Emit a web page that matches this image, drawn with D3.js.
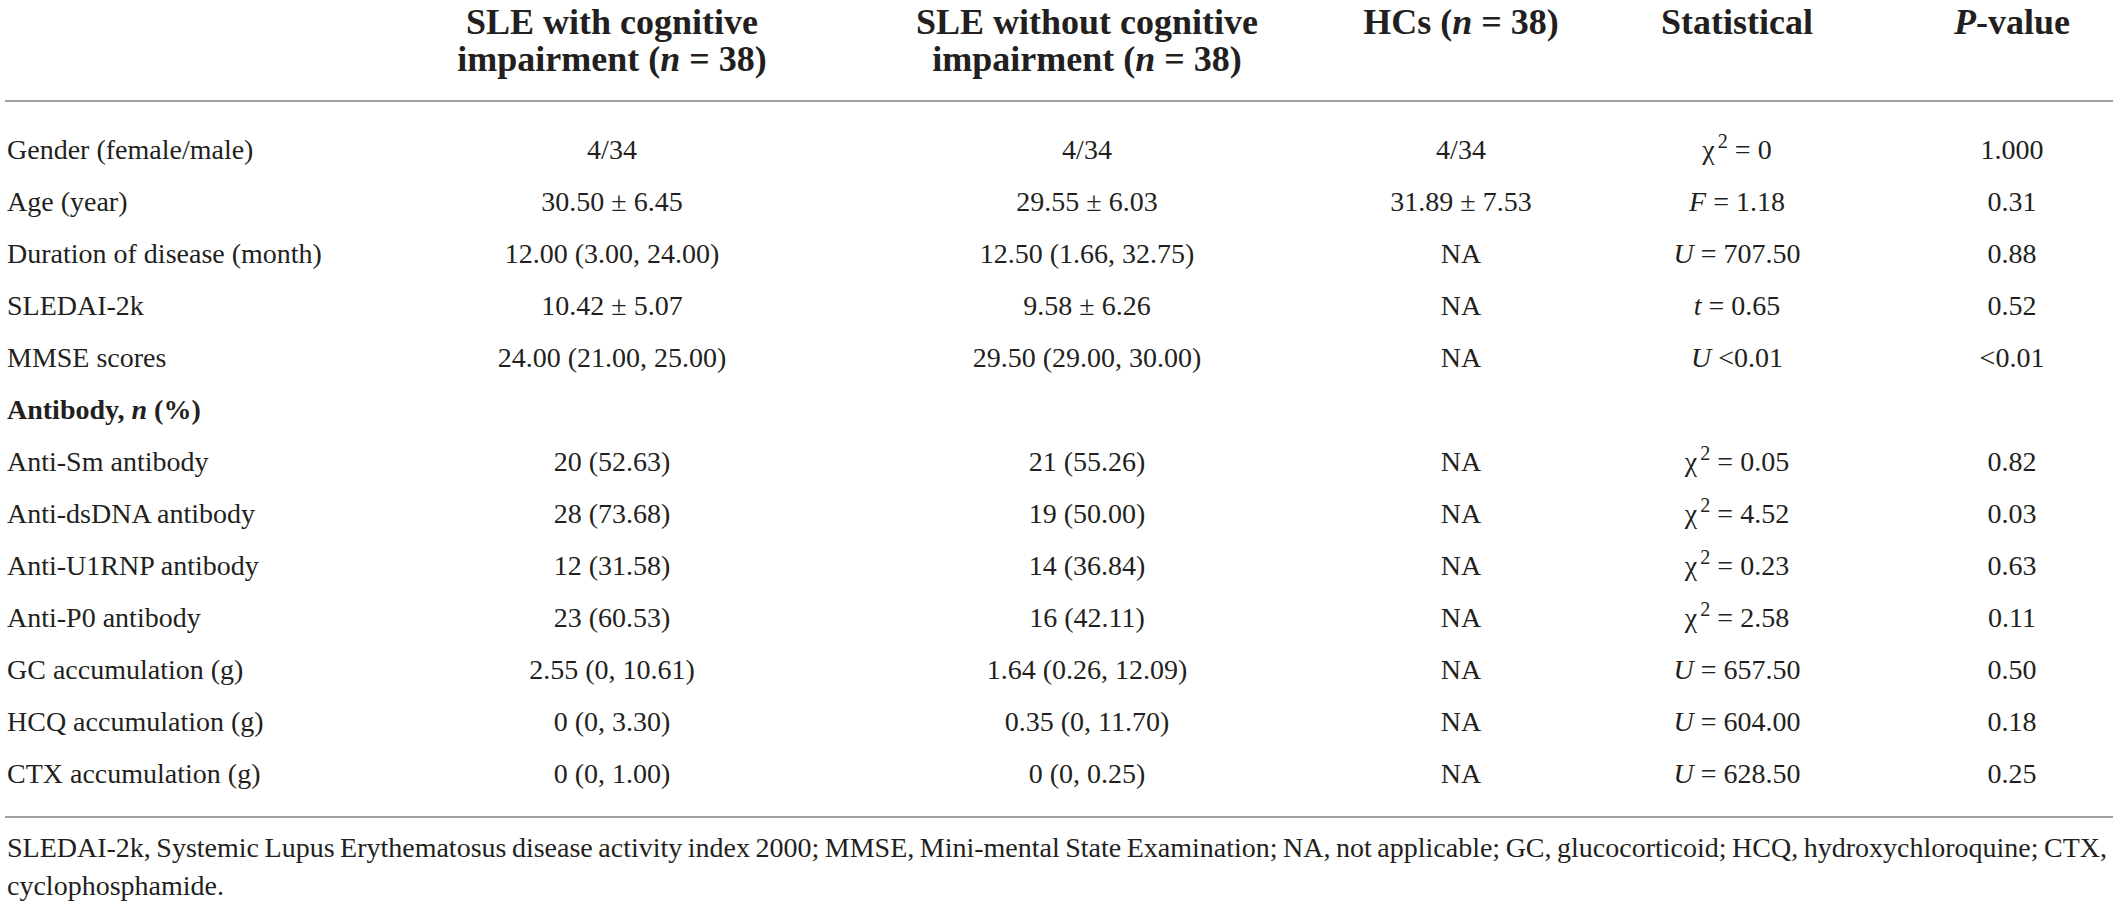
<!DOCTYPE html>
<html>
<head>
<meta charset="utf-8">
<script src="https://cdn.jsdelivr.net/npm/d3@7"></script>
<style>
  body { margin: 0; background: #fff; }
  svg text { font-family: "Liberation Serif", "DejaVu Serif", serif; fill: #231f20; }
</style>
</head>
<body>
<svg id="tbl" width="2117" height="906"></svg>
<script>
// table content
const rowLabels = [
  "Gender (female/male)", "Age (year)", "Duration of disease (month)", "SLEDAI-2k",
  "MMSE scores", "Antibody", "Anti-Sm antibody", "Anti-dsDNA antibody",
  "Anti-U1RNP antibody", "Anti-P0 antibody", "GC accumulation (g)",
  "HCQ accumulation (g)", "CTX accumulation (g)"
];
const withCI = ["4/34", "30.50 ± 6.45", "12.00 (3.00, 24.00)", "10.42 ± 5.07", "24.00 (21.00, 25.00)", "",
  "20 (52.63)", "28 (73.68)", "12 (31.58)", "23 (60.53)", "2.55 (0, 10.61)", "0 (0, 3.30)", "0 (0, 1.00)"];
const withoutCI = ["4/34", "29.55 ± 6.03", "12.50 (1.66, 32.75)", "9.58 ± 6.26", "29.50 (29.00, 30.00)", "",
  "21 (55.26)", "19 (50.00)", "14 (36.84)", "16 (42.11)", "1.64 (0.26, 12.09)", "0.35 (0, 11.70)", "0 (0, 0.25)"];
const hcs = ["4/34", "31.89 ± 7.53", "NA", "NA", "NA", "", "NA", "NA", "NA", "NA", "NA", "NA", "NA"];
const statKind = ["chi", "F", "U", "t", "U", "", "chi", "chi", "chi", "chi", "U", "U", "U"];
const statValue = ["= 0", "= 1.18", "= 707.50", "= 0.65", "<0.01", "", "= 0.05", "= 4.52", "= 0.23", "= 2.58",
  "= 657.50", "= 604.00", "= 628.50"];
const pValues = ["1.000", "0.31", "0.88", "0.52", "<0.01", "", "0.82", "0.03", "0.63", "0.11", "0.50", "0.18", "0.25"];

const footnote = "SLEDAI-2k, Systemic Lupus Erythematosus disease activity index 2000; MMSE, Mini-mental State Examination; NA, not applicable; GC, glucocorticoid; HCQ, hydroxychloroquine; CTX, cyclophosphamide.";

const W = 2117;
const bodySize = 28;
const headSize = 36;
const left = 7;

const svg = d3.select("svg#tbl");

const cols = ["with", "without", "hc", "stat", "p"];
const x = d3.scaleOrdinal().domain(cols).range([612, 1087, 1461, 1737, 2012]);
const y = d3.scaleBand().domain(d3.range(rowLabels.length)).range([133, 809]);
const rowY = i => y(i) + y.bandwidth() / 2;

// header
const head = svg.append("g").attr("font-weight", "bold").attr("font-size", headSize).attr("text-anchor", "middle");
function headCell(col, lines) {
  lines.forEach((parts, li) => {
    const t = head.append("text").attr("x", x(col)).attr("y", 34 + li * 37);
    parts.forEach(p => t.append("tspan").attr("font-style", p.i ? "italic" : null).text(p.s));
  });
}
headCell("with", [[{s: "SLE with cognitive"}], [{s: "impairment ("}, {s: "n", i: true}, {s: " = 38)"}]]);
headCell("without", [[{s: "SLE without cognitive"}], [{s: "impairment ("}, {s: "n", i: true}, {s: " = 38)"}]]);
headCell("hc", [[{s: "HCs ("}, {s: "n", i: true}, {s: " = 38)"}]]);
headCell("stat", [[{s: "Statistical"}]]);
headCell("p", [[{s: "P", i: true}, {s: "-value"}]]);

// rules
svg.append("line").attr("x1", left - 2).attr("x2", W - 4).attr("y1", 101).attr("y2", 101)
  .attr("stroke", "#a0a0a0").attr("stroke-width", 2);
svg.append("line").attr("x1", left - 2).attr("x2", W - 4).attr("y1", 817).attr("y2", 817)
  .attr("stroke", "#a0a0a0").attr("stroke-width", 2);

// body
const body = svg.append("g").attr("font-size", bodySize);

body.selectAll("text.label")
  .data(rowLabels)
  .join("text")
  .attr("class", "label")
  .attr("x", left)
  .attr("y", (d, i) => rowY(i))
  .each(function(d) {
    const t = d3.select(this);
    if (d === "Antibody") {
      t.attr("font-weight", "bold");
      t.append("tspan").text("Antibody, ");
      t.append("tspan").attr("font-style", "italic").text("n");
      t.append("tspan").text(" (%)");
    } else {
      t.text(d);
    }
  });

function plainCol(col, values) {
  body.selectAll("text." + col)
    .data(values)
    .join("text")
    .attr("class", col)
    .attr("x", x(col))
    .attr("y", (d, i) => rowY(i))
    .attr("text-anchor", "middle")
    .text(d => d);
}
plainCol("with", withCI);
plainCol("without", withoutCI);
plainCol("hc", hcs);
plainCol("p", pValues);

body.selectAll("text.stat")
  .data(statKind.map((k, i) => ({k, v: statValue[i]})))
  .join("text")
  .attr("class", "stat")
  .attr("x", x("stat"))
  .attr("y", (d, i) => rowY(i))
  .attr("text-anchor", "middle")
  .each(function(d) {
    const t = d3.select(this);
    if (!d.k) return;
    if (d.k === "chi") {
      t.append("tspan").text("χ");
      t.append("tspan").attr("font-size", bodySize * 0.72).attr("dx", 3).attr("dy", -11).text("2");
      t.append("tspan").attr("dy", 11).text(" " + d.v);
    } else {
      t.append("tspan").attr("font-style", "italic").text(d.k);
      t.append("tspan").text(" " + d.v);
    }
  });

// footnote, first line justified
const words = footnote.split(" ");
const breakAt = words.indexOf("cyclophosphamide.");
const line1 = words.slice(0, breakAt);
const foot = svg.append("g").attr("font-size", bodySize);
const measure = foot.append("text").attr("visibility", "hidden");
const widths = line1.map(w => { measure.text(w); return measure.node().getComputedTextLength(); });
measure.remove();
const avail = (W - 10) - left;
const gap = (avail - d3.sum(widths)) / (line1.length - 1);
let cx = left;
line1.forEach((w, i) => {
  foot.append("text").attr("x", cx).attr("y", 857).text(w);
  cx += widths[i] + gap;
});
foot.append("text").attr("x", left).attr("y", 895).text(words.slice(breakAt).join(" "));
</script>
</body>
</html>
